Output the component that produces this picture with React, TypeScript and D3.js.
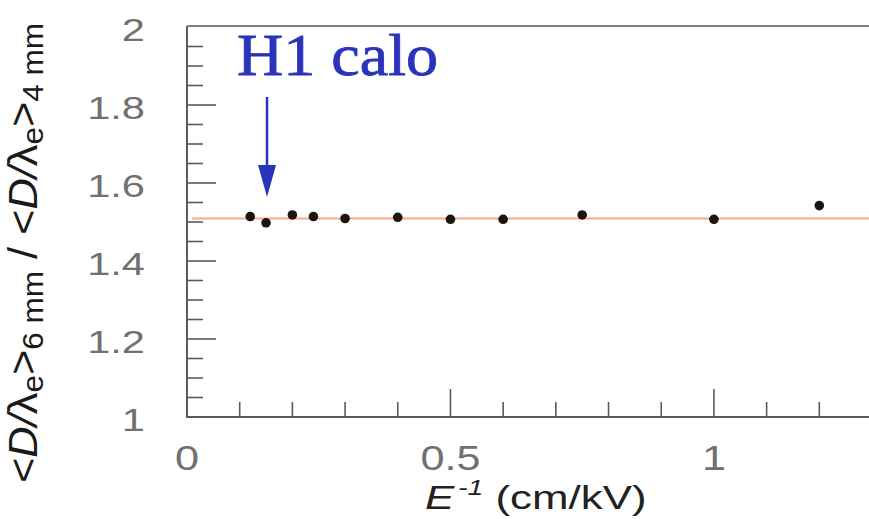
import React from "react";
import * as d3 from "d3";

// E^-1 values (cm/kV) and the ratio <D/λe>6mm / <D/λe>4mm
const invField = [0.12, 0.15, 0.2, 0.24, 0.3, 0.4, 0.5, 0.6, 0.75, 1.0, 1.2];
const ratio = [1.514, 1.498, 1.518, 1.514, 1.509, 1.512, 1.507, 1.507, 1.518, 1.507, 1.542];
const fitLevel = 1.509;
const fitRange = [0.01, 1.3];
const xTickLabels = [0, 0.5, 1];
const yTickLabels = [1, 1.2, 1.4, 1.6, 1.8, 2];
const markerX = 0.15; // H1 calo

const width = 869;
const height = 519;
const margin = { top: 27, right: -3, bottom: 102, left: 187 };

export default function App() {
  const x = d3
    .scaleLinear()
    .domain([0, 1.3])
    .range([margin.left, width - margin.right]);
  const y = d3
    .scaleLinear()
    .domain([1, 2])
    .range([height - margin.bottom, margin.top]);

  const xMinor = x.ticks(13);
  const yMinor = y.ticks(20);
  const isMajorX = (v: number) => Math.abs(v * 2 - Math.round(v * 2)) < 1e-6;
  const isMajorY = (v: number) => Math.abs(v * 5 - Math.round(v * 5)) < 1e-6;

  const axisColor = "#5a5a5a";
  const labelColor = "#707070";
  const x0 = x(0);
  const yBottom = y(1);
  const yTop = y(2);

  const ax = x(markerX);

  return (
    <svg
      width={width}
      height={height}
      style={{ position: "absolute", left: 0, top: 0, background: "#fff" }}
      fontFamily="'Liberation Sans', Arial, sans-serif"
    >
      {/* fit line */}
      <line
        x1={x(fitRange[0])}
        x2={x(fitRange[1])}
        y1={y(fitLevel)}
        y2={y(fitLevel)}
        stroke="#f5a987"
        strokeWidth={2}
      />

      {/* frame */}
      <line x1={x0} x2={x0} y1={yTop - 1} y2={yBottom + 1} stroke={axisColor} strokeWidth={2} />
      <line x1={x0} x2={width} y1={yBottom} y2={yBottom} stroke={axisColor} strokeWidth={2} />
      <line x1={x0} x2={width} y1={yTop - 1} y2={yTop - 1} stroke="#808080" strokeWidth={2} />

      {/* y ticks */}
      {yMinor
        .filter((v) => v > 1 && v < 2)
        .map((v) => (
          <line
            key={"yt" + v}
            x1={x0}
            x2={x0 + (isMajorY(v) ? 29 : 16)}
            y1={y(v)}
            y2={y(v)}
            stroke={axisColor}
            strokeWidth={1.6}
          />
        ))}

      {/* x ticks */}
      {xMinor
        .filter((v) => v > 0)
        .map((v) => (
          <line
            key={"xt" + v}
            x1={x(v)}
            x2={x(v)}
            y1={yBottom}
            y2={yBottom - (isMajorX(v) ? 28 : 15)}
            stroke={axisColor}
            strokeWidth={1.6}
          />
        ))}

      {/* y tick labels */}
      {yTickLabels.map((v) => (
        <text
          key={"yl" + v}
          transform={`translate(145,${y(v) + 2}) scale(1.3,1)`}
          textAnchor="end"
          dy="0.36em"
          fontSize={32}
          fill={labelColor}
        >
          {String(v)}
        </text>
      ))}

      {/* x tick labels */}
      {xTickLabels.map((v) => (
        <text
          key={"xl" + v}
          transform={`translate(${x(v)},470) scale(1.2,1)`}
          textAnchor="middle"
          fontSize={36}
          fill={labelColor}
        >
          {String(v)}
        </text>
      ))}

      {/* x title */}
      <text transform="translate(425,509) scale(1.29,1)" fontSize={34} fill="#222">
        <tspan fontStyle="italic">E</tspan>
        <tspan fontStyle="italic" fontSize={22} dx={3} dy={-14}>
          {"-1"}
        </tspan>
        <tspan dy={14}>{" (cm/kV)"}</tspan>
      </text>

      {/* y title */}
      <text
        transform="translate(37,483) rotate(-90)"
        fontSize={40}
        fill="#1a1a1a"
        textLength={460}
        lengthAdjust="spacingAndGlyphs"
      >
        <tspan>{"<"}</tspan>
        <tspan fontStyle="italic">{"D/"}</tspan>
        <tspan>{"λ"}</tspan>
        <tspan fontSize={29} dy={6}>e</tspan>
        <tspan dy={-6}>{">"}</tspan>
        <tspan fontSize={29} dy={6}>{"6 mm"}</tspan>
        <tspan dy={-6}>{" / <"}</tspan>
        <tspan fontStyle="italic">{"D/"}</tspan>
        <tspan>{"λ"}</tspan>
        <tspan fontSize={29} dy={6}>e</tspan>
        <tspan dy={-6}>{">"}</tspan>
        <tspan fontSize={29} dy={6}>{"4 mm"}</tspan>
      </text>

      {/* data points */}
      {invField.map((v, i) => (
        <circle key={"p" + i} cx={x(v)} cy={y(ratio[i])} r={4.8} fill="#1b1512" />
      ))}

      {/* H1 calo annotation */}
      <text
        x={237}
        y={75}
        fontFamily="'Liberation Serif', 'Times New Roman', serif"
        fontSize={60}
        fill="#2a34bb"
        stroke="#2a34bb"
        strokeWidth={0.8}
        textLength={201}
        lengthAdjust="spacingAndGlyphs"
      >
        H1 calo
      </text>
      <line x1={ax + 1} x2={ax + 1} y1={97} y2={170} stroke="#2a34bb" strokeWidth={2.5} />
      <path
        d={`M${ax - 8},165 L${ax + 10},165 L${ax + 1},197 Z`}
        fill="#2a34bb"
      />
    </svg>
  );
}
